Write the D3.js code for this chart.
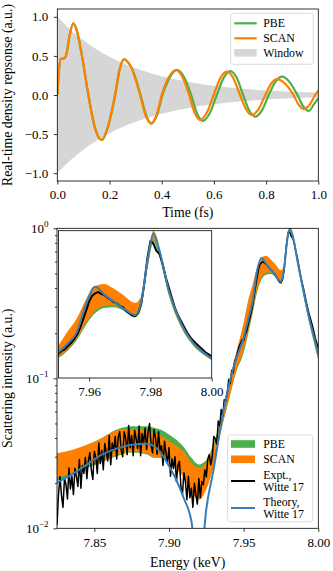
<!DOCTYPE html>
<html>
<head>
<meta charset="utf-8">
<script src="https://cdn.jsdelivr.net/npm/d3@7"></script>
<style>
    body { margin: 0; background: #fff; }
    text { font-family: "Liberation Serif", "Times New Roman", serif; fill: #000; }
    .axis text { font-size: 13px; }
    .axis line { stroke: #000; stroke-width: 0.8; }
    .frame { fill: none; stroke: #000; stroke-width: 0.8; }
    .axis-label { font-size: 13.8px; }
    .legend text { font-size: 11.8px; }
</style>
</head>
<body>
<div id="chart"></div>
<script>
// ---- Top panel: real-time density response ----
var windowT = [0, 0.05, 0.1, 0.15, 0.2, 0.25, 0.3, 0.35, 0.4, 0.45, 0.5,
               0.55, 0.6, 0.65, 0.7, 0.75, 0.8, 0.85, 0.9, 0.95, 1.0];
var windowEnv = [1.0, 0.836, 0.700, 0.585, 0.490, 0.410, 0.343, 0.287, 0.240, 0.201, 0.168,
                 0.140, 0.117, 0.098, 0.082, 0.069, 0.057, 0.048, 0.040, 0.034, 0.028];

var pbeT = [0, 0.005, 0.013, 0.028, 0.036, 0.046, 0.061, 0.075, 0.094, 0.119, 0.145, 0.170,
            0.196, 0.222, 0.239, 0.257, 0.271, 0.286, 0.301, 0.319, 0.340, 0.361, 0.382, 0.403,
            0.431, 0.458, 0.486, 0.513, 0.535, 0.557, 0.584, 0.611, 0.637, 0.663, 0.688, 0.712,
            0.735, 0.758, 0.784, 0.810, 0.835, 0.861, 0.890, 0.920, 0.942, 0.963, 0.985, 1.0];
var pbeV = [0, 0.25, 0.46, 0.47, 0.54, 0.74, 0.915, 0.82, 0.51, 0, -0.43, -0.575,
            -0.383, 0, 0.325, 0.455, 0.42, 0.34, 0.20, 0, -0.258, -0.365, -0.258, 0,
            0.226, 0.322, 0.228, 0, -0.233, -0.33, -0.233, 0, 0.216, 0.306, 0.216, 0,
            -0.196, -0.277, -0.196, 0, 0.165, 0.234, 0.165, 0, -0.144, -0.204, -0.11, -0.043];

var scanT = [0, 0.005, 0.013, 0.028, 0.036, 0.046, 0.061, 0.075, 0.094, 0.119, 0.145, 0.170,
             0.196, 0.221, 0.238, 0.256, 0.270, 0.285, 0.300, 0.317, 0.338, 0.359, 0.380, 0.400,
             0.427, 0.454, 0.480, 0.505, 0.526, 0.547, 0.573, 0.599, 0.624, 0.650, 0.675, 0.700,
             0.723, 0.746, 0.771, 0.797, 0.819, 0.841, 0.873, 0.905, 0.925, 0.944, 0.967, 0.988, 1.0];
var scanV = [0, 0.25, 0.46, 0.47, 0.54, 0.74, 0.915, 0.82, 0.51, 0, -0.43, -0.575,
             -0.383, 0, 0.325, 0.46, 0.42, 0.34, 0.20, 0, -0.256, -0.362, -0.256, 0,
             0.226, 0.32, 0.226, 0, -0.225, -0.319, -0.225, 0, 0.21, 0.298, 0.21, 0,
             -0.18, -0.255, -0.18, 0, 0.144, 0.204, 0.144, 0, -0.127, -0.179, -0.125, 0, 0.055];

var timeTicks = [0, 0.2, 0.4, 0.6, 0.8, 1.0];
var respTicks = [-1, -0.5, 0, 0.5, 1];

// ---- Bottom panel: scattering spectrum (keV) ----
var bandE = [7.825, 7.835, 7.845, 7.855, 7.865, 7.875, 7.885, 7.89, 7.895, 7.90,
             7.905, 7.91, 7.915, 7.92, 7.925, 7.93, 7.935, 7.94, 7.945, 7.95,
             7.953, 7.956, 7.959, 7.962, 7.965, 7.968, 7.971, 7.975, 7.977, 7.9793,
             7.981, 7.983, 7.986, 7.99, 7.994, 7.997, 8.0];
var pbeHi = [0.0312, 0.0330, 0.0358, 0.0400, 0.0455, 0.0479, 0.0479, 0.0468, 0.0452, 0.0422,
             0.0389, 0.0347, 0.0295, 0.0266, 0.0285, 0.0372, 0.0540, 0.0920, 0.145, 0.228,
             0.32, 0.41, 0.54, 0.625, 0.64, 0.61, 0.57, 0.515, 0.56, 0.84,
             1.0, 0.89, 0.61, 0.385, 0.25, 0.19, 0.145];
var pbeLo = [0.0208, 0.0224, 0.0252, 0.0276, 0.0302, 0.0320, 0.0312, 0.0295, 0.0295, 0.0293,
             0.0255, 0.0220, 0.0182, 0.0162, 0.0185, 0.0265, 0.0450, 0.0710, 0.110, 0.148,
             0.197, 0.27, 0.375, 0.455, 0.49, 0.495, 0.475, 0.425, 0.49, 0.79,
             0.94, 0.835, 0.575, 0.358, 0.231, 0.174, 0.132];
var scanHi = [0.0316, 0.0333, 0.0360, 0.0398, 0.0448, 0.0457, 0.0448, 0.0430, 0.0413, 0.0384,
              0.0354, 0.0324, 0.0272, 0.0254, 0.0275, 0.0355, 0.0537, 0.0933, 0.148, 0.235,
              0.33, 0.42, 0.55, 0.64, 0.655, 0.623, 0.58, 0.525, 0.57, 0.85,
              1.02, 0.90, 0.62, 0.392, 0.255, 0.194, 0.148];
var scanLo = [0.0219, 0.0234, 0.0258, 0.0282, 0.0308, 0.0324, 0.0316, 0.0297, 0.0297, 0.0295,
              0.0251, 0.0215, 0.0175, 0.0155, 0.0182, 0.0264, 0.0453, 0.0716, 0.112, 0.155,
              0.205, 0.28, 0.39, 0.47, 0.505, 0.508, 0.485, 0.43, 0.50, 0.80,
              0.96, 0.85, 0.585, 0.365, 0.236, 0.178, 0.135];
var theory = [0.0202, 0.0229, 0.0266, 0.0310, 0.0340, 0.0361, 0.0366, 0.0353, 0.0313, 0.0260,
              0.0209, 0.0158, 0.0112, 0.0045, 0.0135, 0.0251, 0.0501, 0.0891, 0.135, 0.186,
              0.245, 0.325, 0.52, 0.635, 0.58, 0.535, 0.49, 0.441, 0.53, 0.85,
              1.0, 0.88, 0.61, 0.385, 0.25, 0.19, 0.145];

// experiment sampled every 1 eV from 7.825 keV
var exptStart = 7.825, exptStep = 0.001;
var exptI = [
    0.0105, 0.0168, 0.0221, 0.0166, 0.0138, 0.0215, 0.0196, 0.0157, 0.0252, 0.0183,
    0.0222, 0.0168, 0.0251, 0.0221, 0.0190, 0.0288, 0.0185, 0.0262, 0.0232, 0.0296,
    0.0214, 0.0281, 0.0320, 0.0245, 0.0212, 0.0325, 0.0297, 0.0232, 0.0371, 0.0270,
    0.0330, 0.0246, 0.0367, 0.0322, 0.0281, 0.0415, 0.0265, 0.0370, 0.0330, 0.0410,
    0.0290, 0.0405, 0.0440, 0.0332, 0.0300, 0.0440, 0.0400, 0.0310, 0.0485, 0.0345,
    0.0415, 0.0305, 0.0450, 0.0395, 0.0340, 0.0480, 0.0305, 0.0428, 0.0370, 0.0465,
    0.0335, 0.0440, 0.0500, 0.0360, 0.0318, 0.0455, 0.0400, 0.0312, 0.0440, 0.0330,
    0.0355, 0.0262, 0.0380, 0.0318, 0.0270, 0.0345, 0.0222, 0.0290, 0.0250, 0.0300,
    0.0205, 0.0262, 0.0280, 0.0190, 0.0168, 0.0235, 0.0205, 0.0155, 0.0222, 0.0160,
    0.0185, 0.0138, 0.0200, 0.0168, 0.0145, 0.0215, 0.0160, 0.0205, 0.0195, 0.0245,
    0.0220, 0.0290, 0.0310, 0.0265, 0.0300, 0.0410, 0.0395, 0.0365, 0.0520, 0.0480,
    0.0620, 0.0560, 0.0720, 0.0700, 0.0790, 0.0980, 0.0920, 0.1130, 0.1090, 0.1300,
    0.1380, 0.150, 0.163, 0.172, 0.181, 0.178, 0.196, 0.205, 0.228, 0.248,
    0.272, 0.305, 0.352, 0.410, 0.470, 0.535, 0.575, 0.590, 0.600, 0.585,
    0.578, 0.560, 0.548, 0.530, 0.522, 0.505, 0.495, 0.470, 0.455, 0.440,
    0.435, 0.455, 0.520, 0.660, 0.830, 0.950, 0.930, 0.880, 0.860, 0.790,
    0.700, 0.630, 0.560, 0.490, 0.440, 0.400, 0.360, 0.320, 0.290, 0.265,
    0.245, 0.225, 0.205, 0.185, 0.172, 0.158
];

var energyTicks = [7.85, 7.90, 7.95, 8.00];
var insetTicks = [7.96, 7.98, 8.00];
var logTicks = [0.01, 0.1, 1];
var logTickExp = ["\u22122", "\u22121", "0"];

var colors = { pbe: "#4daf4a", scan: "#ff7f00", theory: "#377eb8", expt: "#000", window: "#d6d6d6" };

function init() {
    var W = 333, H = 571;

    var svg = d3.select("#chart")
        .append("svg")
        .attr("width", W)
        .attr("height", H);

    var defs = svg.append("defs");
    function clip(id, x0, x1, y0, y1) {
        defs.append("clipPath").attr("id", id)
            .append("rect").attr("x", x0).attr("y", y0)
            .attr("width", x1 - x0).attr("height", y1 - y0);
        return "url(#" + id + ")";
    }

    // Step 1: top panel scales
    var xT = d3.scaleLinear().domain([0, 1]).range([57.3, 318.3]);
    var yT = d3.scaleLinear().domain([-1.1, 1.1]).range([181, 9]);
    var top = svg.append("g");
    var topPlot = top.append("g").attr("clip-path", clip("clipTop", 57.3, 318.3, 9, 181));

    var win = windowT.map((t, i) => ({ t: t, e: windowEnv[i] }));
    topPlot.append("path")
        .datum(win)
        .attr("fill", colors.window)
        .attr("d", d3.area().curve(d3.curveMonotoneX)
            .x(d => xT(d.t)).y0(d => yT(-d.e)).y1(d => yT(d.e)));

    var lineT = d3.line().curve(d3.curveMonotoneX).x(d => xT(d[0])).y(d => yT(d[1]));
    topPlot.append("path")
        .datum(pbeT.map((t, i) => [t, pbeV[i]]))
        .attr("fill", "none").attr("stroke", colors.pbe).attr("stroke-width", 2.2)
        .attr("d", lineT);
    topPlot.append("path")
        .datum(scanT.map((t, i) => [t, scanV[i]]))
        .attr("fill", "none").attr("stroke", colors.scan).attr("stroke-width", 2.2)
        .attr("d", lineT);

    // axes
    var fmt1 = d3.format(".1f");
    top.append("g").attr("class", "axis")
        .attr("transform", "translate(0,181)")
        .call(d3.axisBottom(xT).tickValues(timeTicks).tickFormat(fmt1)
            .tickSize(3.5).tickPadding(5.5).tickSizeOuter(0))
        .call(g => g.select(".domain").remove());
    top.append("g").attr("class", "axis")
        .attr("transform", "translate(57.3,0)")
        .call(d3.axisLeft(yT).tickValues(respTicks).tickFormat(fmt1)
            .tickSize(3.5).tickPadding(5.5).tickSizeOuter(0))
        .call(g => g.select(".domain").remove());
    top.append("rect").attr("class", "frame")
        .attr("x", 57.3).attr("y", 9).attr("width", 261).attr("height", 172);

    top.append("text").attr("class", "axis-label")
        .attr("x", 187.8).attr("y", 216.5)
        .style("text-anchor", "middle")
        .text("Time (fs)");
    top.append("text").attr("class", "axis-label")
        .attr("transform", "translate(12,95) rotate(-90)")
        .style("text-anchor", "middle")
        .text("Real-time density repsonse (a.u.)");

    // top legend
    var lg = top.append("g").attr("class", "legend");
    lg.append("rect").attr("x", 230.7).attr("y", 13.3).attr("width", 82.6).attr("height", 51)
        .attr("rx", 2.5).attr("fill", "#fff").attr("fill-opacity", 0.8)
        .attr("stroke", "#d0d0d0").attr("stroke-width", 0.8);
    [["PBE", colors.pbe, 23.3], ["SCAN", colors.scan, 38.3]].forEach(function (e) {
        lg.append("line").attr("x1", 234.3).attr("x2", 256.7).attr("y1", e[2]).attr("y2", e[2])
            .attr("stroke", e[1]).attr("stroke-width", 2.2);
        lg.append("text").attr("x", 263.3).attr("y", e[2] + 4).text(e[0]);
    });
    lg.append("rect").attr("x", 234.3).attr("y", 49).attr("width", 22.4).attr("height", 7.6)
        .attr("fill", colors.window);
    lg.append("text").attr("x", 263.3).attr("y", 52.7 + 4).text("Window");

    // Step 2: bottom panel scales
    var xB = d3.scaleLinear().domain([7.825, 8.0]).range([57, 318.3]);
    var yB = d3.scaleLog().domain([0.01, 1]).range([528.3, 228.3]);
    var bot = svg.append("g");
    var botPlot = bot.append("g").attr("clip-path", clip("clipBot", 57, 318.3, 228.3, 528.3));

    var bands = bandE.map((e, i) => ({ e: e, ph: pbeHi[i], pl: pbeLo[i], sh: scanHi[i], sl: scanLo[i], th: theory[i] }));
    var expt = exptI.map((v, i) => ({ e: exptStart + i * exptStep, v: v }));

    function drawSpectrum(g, xs, ys, exptWidth) {
        g.append("path").datum(bands).attr("fill", colors.pbe)
            .attr("d", d3.area().curve(d3.curveMonotoneX).x(d => xs(d.e)).y0(d => ys(d.pl)).y1(d => ys(d.ph)));
        g.append("path").datum(bands).attr("fill", colors.scan)
            .attr("d", d3.area().curve(d3.curveMonotoneX).x(d => xs(d.e)).y0(d => ys(d.sl)).y1(d => ys(d.sh)));
        g.append("path").datum(expt).attr("fill", "none")
            .attr("stroke", colors.expt).attr("stroke-width", exptWidth).attr("stroke-linejoin", "round")
            .attr("d", d3.line().x(d => xs(d.e)).y(d => ys(d.v)));
        g.append("path").datum(bands).attr("fill", "none")
            .attr("stroke", colors.theory).attr("stroke-width", 2)
            .attr("d", d3.line().curve(d3.curveMonotoneX).x(d => xs(d.e)).y(d => ys(Math.max(d.th, 0.001))));
    }
    drawSpectrum(botPlot, xB, yB, 1.5);

    // x axis
    bot.append("g").attr("class", "axis")
        .attr("transform", "translate(0,528.3)")
        .call(d3.axisBottom(xB).tickValues(energyTicks).tickFormat(d3.format(".2f"))
            .tickSize(3.5).tickPadding(5.5).tickSizeOuter(0))
        .call(g => g.select(".domain").remove());

    // log y axis: major + minor ticks
    var minor = [];
    [0.01, 0.1].forEach(function (dec) {
        for (var k = 2; k <= 9; k++) minor.push(dec * k);
    });
    bot.append("g").attr("class", "axis")
        .attr("transform", "translate(57,0)")
        .call(d3.axisLeft(yB).tickValues(minor).tickFormat("").tickSize(2).tickSizeOuter(0))
        .call(g => g.select(".domain").remove());
    var yAx = bot.append("g").attr("class", "axis")
        .attr("transform", "translate(57,0)")
        .call(d3.axisLeft(yB).tickValues(logTicks).tickFormat("").tickSize(3.5).tickSizeOuter(0))
        .call(g => g.select(".domain").remove());
    logTicks.forEach(function (v, i) {
        var t = yAx.append("text").attr("x", -8.5).attr("y", yB(v) + 4.5)
            .style("text-anchor", "end").style("font-size", "13px");
        t.append("tspan").text("10");
        t.append("tspan").attr("dy", -5.5).style("font-size", "9px").text(logTickExp[i]);
    });
    bot.append("rect").attr("class", "frame")
        .attr("x", 57).attr("y", 228.3).attr("width", 261.3).attr("height", 300);

    bot.append("text").attr("class", "axis-label")
        .attr("x", 187.7).attr("y", 566.5)
        .style("text-anchor", "middle")
        .text("Energy (keV)");
    bot.append("text").attr("class", "axis-label")
        .attr("transform", "translate(12,378.3) rotate(-90)")
        .style("text-anchor", "middle")
        .text("Scattering intensity (a.u.)");

    // Step 3: inset (linear intensity, zoom on the peaks)
    var xI = d3.scaleLinear().domain([7.95, 8.0]).range([58.5, 211.7]);
    var yI = d3.scaleLinear().domain([0.01, 1.02]).range([378, 230.7]);
    var ins = svg.append("g");
    ins.append("rect").attr("x", 58.5).attr("y", 230.7).attr("width", 153.2).attr("height", 147.3)
        .attr("fill", "#fff");
    var insPlot = ins.append("g").attr("clip-path", clip("clipIns", 58.5, 211.7, 230.7, 378));
    drawSpectrum(insPlot, xI, yI, 2);
    ins.append("g").attr("class", "axis")
        .attr("transform", "translate(0,378)")
        .call(d3.axisBottom(xI).tickValues(insetTicks).tickFormat(d3.format(".2f"))
            .tickSize(3.5).tickPadding(5.5).tickSizeOuter(0))
        .call(g => g.select(".domain").remove());
    ins.append("rect").attr("class", "frame")
        .attr("x", 58.5).attr("y", 230.7).attr("width", 153.2).attr("height", 147.3);

    // bottom legend
    var lb = bot.append("g").attr("class", "legend");
    lb.append("rect").attr("x", 227.7).attr("y", 435).attr("width", 85).attr("height", 86.7)
        .attr("rx", 2.5).attr("fill", "#fff").attr("fill-opacity", 0.8)
        .attr("stroke", "#d0d0d0").attr("stroke-width", 0.8);
    [["PBE", colors.pbe, 444], ["SCAN", colors.scan, 459.3]].forEach(function (e) {
        lb.append("rect").attr("x", 231).attr("y", e[2] - 3.8).attr("width", 24).attr("height", 7.6)
            .attr("fill", e[1]);
        lb.append("text").attr("x", 263.3).attr("y", e[2] + 4).text(e[0]);
    });
    [[["Expt.,", "Witte 17"], colors.expt, 481], [["Theory,", "Witte 17"], colors.theory, 508]].forEach(function (e) {
        lb.append("line").attr("x1", 231).attr("x2", 255).attr("y1", e[2]).attr("y2", e[2])
            .attr("stroke", e[1]).attr("stroke-width", 2);
        lb.append("text").attr("x", 263.3).attr("y", e[2] - 6.5 + 4).text(e[0][0]);
        lb.append("text").attr("x", 263.3).attr("y", e[2] + 6 + 4).text(e[0][1]);
    });
}

init();
</script>
</body>
</html>
